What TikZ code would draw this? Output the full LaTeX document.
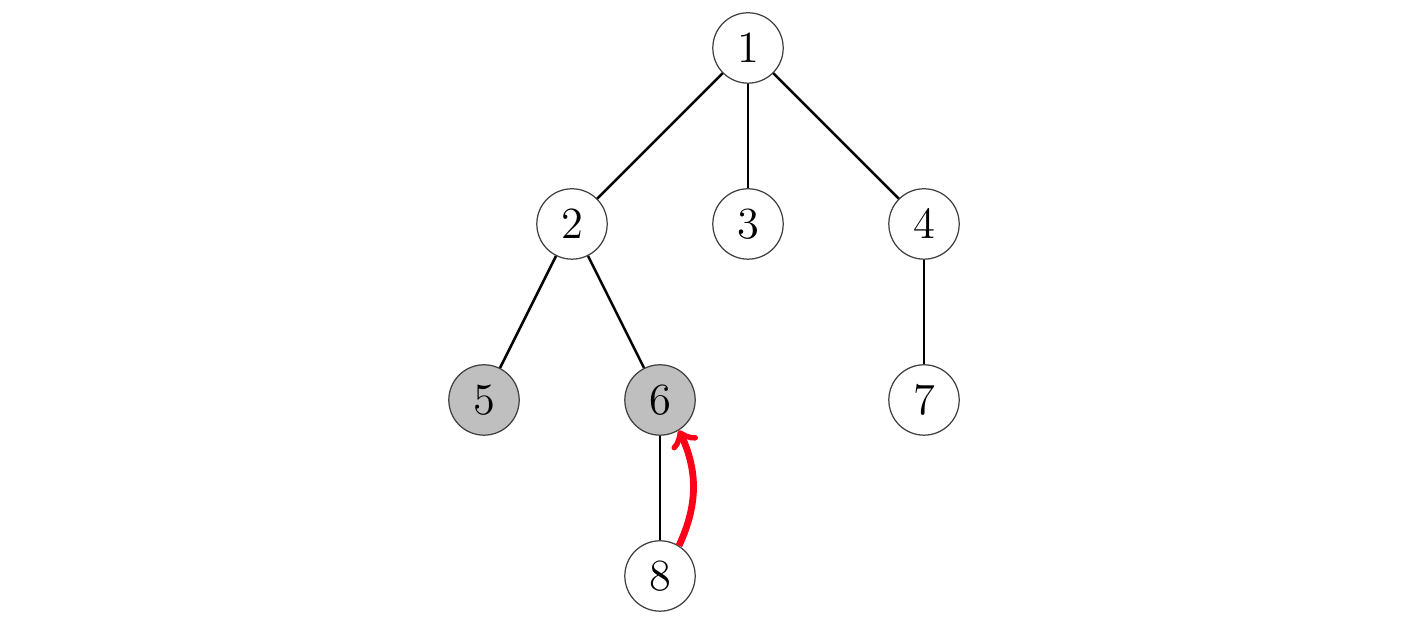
\documentclass[tikz,border=0pt]{standalone}
\usepackage{amsmath,amssymb}
\usepackage{tikz}
\usetikzlibrary{arrows}
\usepackage{xcolor}

\begin{document}
\begin{tikzpicture}[vertex/.style={circle, draw=black!75, fill=white, minimum size=0.8cm, inner sep=0pt, font=\Large},
  marked/.style={vertex, fill=gray!50}]
\useasboundingbox (-8.5,0.545) rectangle (7.636,-6.545);
\node[vertex] (v1) at (0,0) {$1$};
\node[vertex] (v2) at (-2,-2) {$2$};
\node[vertex] (v3) at (0,-2) {$3$};
\node[vertex] (v4) at (2,-2) {$4$};
\node[marked] (v5) at (-3,-4) {$5$};
\node[marked] (v6) at (-1,-4) {$6$};
\node[vertex] (v7) at (2,-4) {$7$};
\node[vertex] (v8) at (-1,-6) {$8$};
\draw[thick] (v1) -- (v2);
\draw[thick] (v1) -- (v3);
\draw[thick] (v1) -- (v4);
\draw[thick] (v2) -- (v5);
\draw[thick] (v2) -- (v6);
\draw[thick] (v4) -- (v7);
\draw[thick] (v6) -- (v8);
\draw[red!90!magenta, line width=2.2pt, ->] (v8.58) to[bend right=25] (v6.-58);
\end{tikzpicture}
\end{document}
